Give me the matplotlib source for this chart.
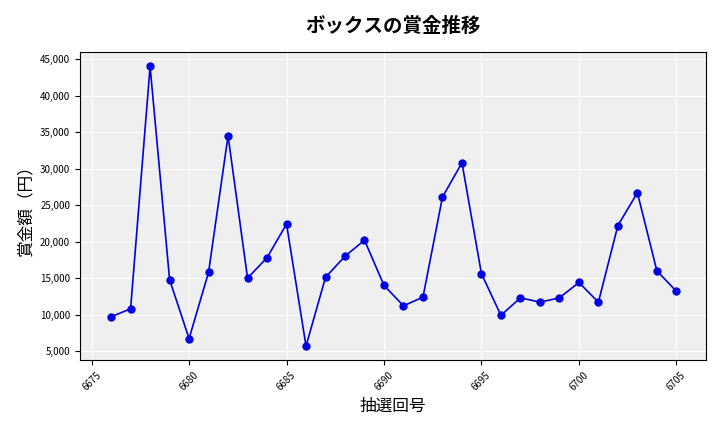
import matplotlib
matplotlib.use("Agg")
import matplotlib.pyplot as plt
from matplotlib.ticker import FuncFormatter

plt.rcParams['font.family'] = ['Noto Sans CJK JP', 'DejaVu Sans']

draws = list(range(6676, 6706))
prizes = [9700, 10800, 44000, 14800, 6700, 15800, 34500, 15000, 17800, 22400,
          5700, 15100, 18000, 20200, 14000, 11200, 12400, 26100, 30800, 15600,
          9900, 12300, 11700, 12300, 14400, 11700, 22200, 26700, 16000, 13200]

fig = plt.figure(figsize=(7.2, 4.32), dpi=100)
ax = fig.add_axes([0.111, 0.167, 0.869, 0.713])
ax.set_facecolor('#efefef')
ax.plot(draws, prizes, color='#0000e0', marker='o', markersize=5, linewidth=1.2)
ax.grid(True, color='white', linewidth=0.8)
ax.set_axisbelow(True)
ax.set_xlim(6674.4, 6706.5)
ax.set_ylim(3800, 46000)
ax.set_yticks(range(5000, 45001, 5000))
ax.yaxis.set_major_formatter(FuncFormatter(lambda v, p: f'{int(v):,}'))
ax.tick_params(axis='both', labelsize=7)
plt.setp(ax.get_xticklabels(), rotation=45)
ax.set_xlabel('抽選回号', fontsize=12)
ax.set_ylabel('賞金額（円）', fontsize=12)
ax.set_title('ボックスの賞金推移', fontsize=14, fontweight='bold', pad=14)
fig.savefig('out.png', dpi=100)
